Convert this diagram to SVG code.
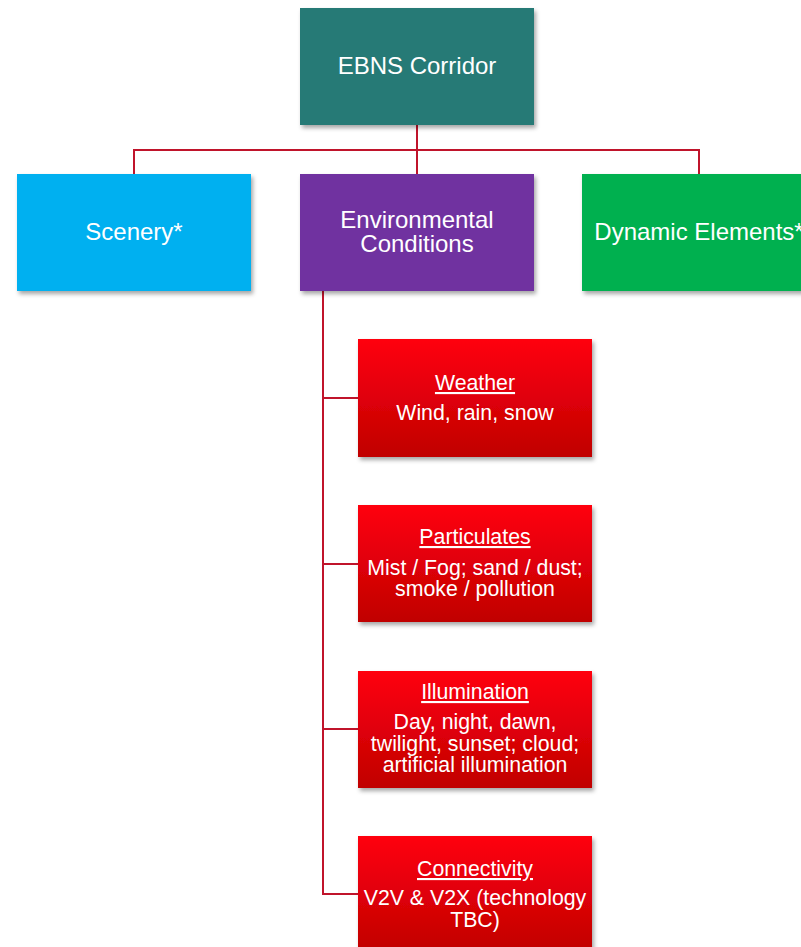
<svg xmlns="http://www.w3.org/2000/svg" width="801" height="947" viewBox="0 0 801 947">
  <defs>
    <linearGradient id="redGrad" x1="0" y1="0" x2="0" y2="1">
      <stop offset="0" stop-color="#FF0010"/>
      <stop offset="1" stop-color="#C00000"/>
    </linearGradient>
    <filter id="shadow" x="-10%" y="-10%" width="125%" height="130%">
      <feDropShadow dx="2" dy="3" stdDeviation="2.2" flood-color="#000" flood-opacity="0.35"/>
    </filter>
  </defs>
  <style>
    .box { filter: url(#shadow); }
    .lbl { font-family: "Liberation Sans", Arial, sans-serif; fill: #FFFFFF; text-anchor: middle; }
    .big { font-size: 24px; }
    .sm { font-size: 21.3px; }
    .ul { text-decoration: underline; }
    .conn { fill: none; stroke: #C0142B; stroke-width: 2; }
  </style>
  <rect width="801" height="947" fill="#FFFFFF"/>

  <g id="connectors">
    <path class="conn" d="M417 125 V150 M134 174 V150 H699 V174 M417 150 V174"/>
    <path class="conn" d="M323 291 V894 H358 M323 398 H358 M323 564 H358 M323 729 H358"/>
  </g>

  <g id="ebns-corridor">
    <rect class="box" x="300" y="8" width="234" height="117" fill="#267A76"/>
    <text class="lbl big" x="417" y="74">EBNS Corridor</text>
  </g>

  <g id="scenery">
    <rect class="box" x="17" y="174" width="234" height="117" fill="#00B0F0"/>
    <text class="lbl big" x="134" y="240">Scenery*</text>
  </g>

  <g id="environmental-conditions">
    <rect class="box" x="300" y="174" width="234" height="117" fill="#7030A0"/>
    <text class="lbl big" x="417" y="228">Environmental</text>
    <text class="lbl big" x="417" y="252">Conditions</text>
  </g>

  <g id="dynamic-elements">
    <rect class="box" x="582" y="174" width="234" height="117" fill="#00B050"/>
    <text class="lbl big" x="699" y="240">Dynamic Elements*</text>
  </g>

  <g id="weather">
    <rect class="box" x="358" y="339" width="234" height="118" fill="url(#redGrad)"/>
    <text class="lbl sm ul" x="475" y="390">Weather</text>
    <text class="lbl sm" x="475" y="420">Wind, rain, snow</text>
  </g>

  <g id="particulates">
    <rect class="box" x="358" y="505" width="234" height="117" fill="url(#redGrad)"/>
    <text class="lbl sm ul" x="475" y="544">Particulates</text>
    <text class="lbl sm" x="475" y="575">Mist / Fog; sand / dust;</text>
    <text class="lbl sm" x="475" y="596">smoke / pollution</text>
  </g>

  <g id="illumination">
    <rect class="box" x="358" y="671" width="234" height="117" fill="url(#redGrad)"/>
    <text class="lbl sm ul" x="475" y="699">Illumination</text>
    <text class="lbl sm" x="475" y="729">Day, night, dawn,</text>
    <text class="lbl sm" x="475" y="751">twilight, sunset; cloud;</text>
    <text class="lbl sm" x="475" y="772">artificial illumination</text>
  </g>

  <g id="connectivity">
    <rect class="box" x="358" y="836" width="234" height="117" fill="url(#redGrad)"/>
    <text class="lbl sm ul" x="475" y="876">Connectivity</text>
    <text class="lbl sm" x="475" y="905">V2V &amp; V2X (technology</text>
    <text class="lbl sm" x="475" y="927">TBC)</text>
  </g>
</svg>
